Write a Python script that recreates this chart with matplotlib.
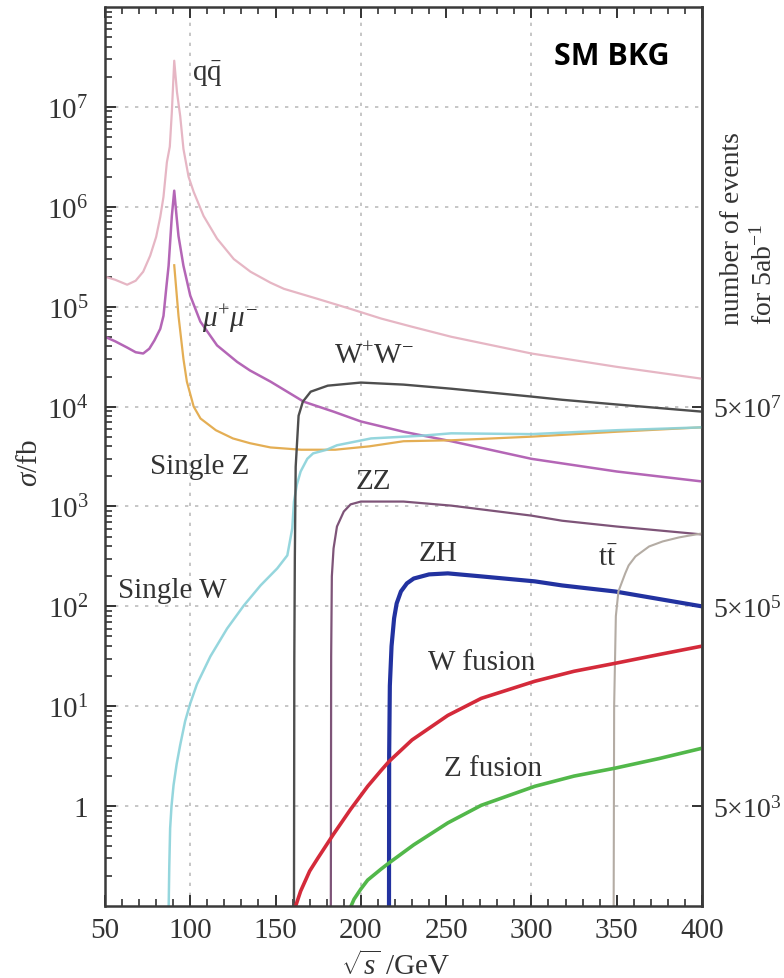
import numpy as np
import matplotlib
matplotlib.use("Agg")
import matplotlib.pyplot as plt
from matplotlib.ticker import FixedLocator, MultipleLocator, LogLocator, NullFormatter

plt.rcParams['font.family'] = ['Liberation Serif', 'DejaVu Serif']
plt.rcParams['mathtext.fontset'] = 'custom'
plt.rcParams['mathtext.rm'] = 'Liberation Serif'
plt.rcParams['mathtext.it'] = 'Liberation Serif:italic'
plt.rcParams['mathtext.bf'] = 'Liberation Serif:bold'

# cross sections in fb vs sqrt(s) in GeV
qq_x = [50, 56, 63, 68, 72.4, 76.5, 80, 82.4, 84.3, 86.3, 88, 89.2, 90.6, 92.2, 94.1,
        96, 99, 102, 107.8, 115.7, 125.5, 135.3, 147, 154.9, 174.5, 194, 212, 230,
        253, 300, 350, 400]
qq_y = [2.0e5, 1.86e5, 1.66e5, 1.82e5, 2.24e5, 3.24e5, 5.0e5, 7.9e5, 1.26e6, 2.8e6,
        4.0e6, 8.9e6, 2.9e7, 1.41e7, 8.1e6, 3.8e6, 2.0e6, 1.41e6, 8.1e5, 4.8e5,
        3.0e5, 2.24e5, 1.74e5, 1.51e5, 1.2e5, 9.5e4, 7.6e4, 6.3e4, 5.0e4, 3.4e4,
        2.5e4, 1.9e4]

mumu_x = [50, 56, 63, 68, 72.4, 76, 79, 82.4, 84.3, 86, 87.3, 89.2, 90.6, 92, 93.1, 96,
          100, 105.9, 115.7, 127.5, 135, 147, 166.5, 184, 200, 225, 253, 300, 318,
          350, 400]
mumu_y = [5.0e4, 4.5e4, 3.9e4, 3.5e4, 3.4e4, 3.8e4, 4.6e4, 6.0e4, 8.1e4, 1.58e5,
          2.57e5, 8.1e5, 1.45e6, 7.9e5, 5.1e5, 2.57e5, 1.29e5, 7.1e4, 4.1e4, 2.8e4,
          2.3e4, 1.78e4, 1.12e4, 8.9e3, 7.1e3, 5.6e3, 4.5e3, 3.0e3, 2.7e3, 2.24e3,
          1.78e3]

singlez_x = [90.6, 93.1, 96, 98, 102, 106, 115, 125, 135, 147, 165, 185, 205, 225,
             253, 300, 350, 400]
singlez_y = [2.6e5, 8.1e4, 3.0e4, 1.78e4, 1.0e4, 7.6e3, 5.8e3, 4.8e3, 4.3e3, 3.9e3,
             3.7e3, 3.7e3, 4.0e3, 4.5e3, 4.6e3, 5.0e3, 5.6e3, 6.2e3]

singlew_x = [87.3, 87.7, 88.2, 89, 90.2, 92, 94.1, 97, 100, 103.9, 111.8, 121.6, 131.4,
             141.2, 151, 156.9, 159.8, 160.8, 162.5, 164.7, 168.6, 172, 180, 186, 206,
             235, 253, 300, 350, 400]
singlew_y = [0.089, 0.25, 0.6, 1.0, 1.62, 2.63, 4.1, 7.1, 10.7, 16.6, 31.6, 60, 102,
             162, 240, 324, 603, 1.12e3, 1.66e3, 2.24e3, 3.0e3, 3.4e3, 3.7e3, 4.1e3,
             4.8e3, 5.1e3, 5.4e3, 5.3e3, 5.8e3, 6.2e3]

ww_x = [160.8, 161.0, 161.3, 161.8, 163.5, 166, 170.6, 180.6, 200, 225, 253, 300, 318,
        350, 400]
ww_y = [0.08, 30, 300, 2500, 8100, 1.12e4, 1.41e4, 1.62e4, 1.74e4, 1.66e4, 1.51e4,
        1.26e4, 1.17e4, 1.05e4, 8.9e3]

zz_x = [182.4, 182.6, 183, 184, 186, 190, 194, 200, 225, 253, 300, 318, 350, 400]
zz_y = [0.08, 31.6, 200, 380, 630, 890, 1050, 1120, 1120, 1020, 810, 720, 630, 525]

zh_x = [216.5, 216.6, 217, 218, 219.5, 221, 223.5, 227, 231, 240, 251, 270, 302, 318,
        349, 400]
zh_y = [0.08, 3.2, 16, 40, 76, 107, 141, 170, 190, 209, 214, 200, 178, 162, 141, 100]

tt_x = [348.2, 348.5, 349.5, 351, 355, 357, 361, 369, 377, 386.5, 393, 400]
tt_y = [0.08, 10, 80, 141, 214, 257, 316, 398, 447, 490, 513, 537]

wfus_x = [160.8, 164.7, 170, 174.7, 184, 194, 204, 212, 216.5, 230, 251, 270.6, 302,
          325, 349, 375, 400]
wfus_y = [0.089, 0.141, 0.224, 0.30, 0.525, 0.93, 1.58, 2.29, 2.8, 4.6, 8.1, 12, 17.8,
          22.4, 26.9, 33, 40]

zfus_x = [193, 196, 200, 204, 211.8, 216.5, 231, 251, 270.6, 302, 325, 349, 375, 400]
zfus_y = [0.089, 0.117, 0.148, 0.182, 0.234, 0.27, 0.41, 0.68, 1.02, 1.58, 2.0, 2.4,
          3.0, 3.8]

# left / right axis ticks
left_ticks = [1, 1e1, 1e2, 1e3, 1e4, 1e5, 1e6, 1e7]
left_labels = ['1', '$10^1$', '$10^2$', '$10^3$', '$10^4$', '$10^5$', '$10^6$', '$10^7$']
lumi = 5000  # fb^-1 = 5 ab^-1
right_ticks = [5e3, 5e5, 5e7]
right_labels = [r'5$\times$10$^3$', r'5$\times$10$^5$', r'5$\times$10$^7$']

fig = plt.figure(figsize=(7.84, 9.79), dpi=100)
ax = fig.add_axes([0.1339, 0.0735, 0.7615, 0.9183])

# grid (only a few lines in the original)
for yv in left_ticks:
    ax.axhline(yv, color='#bcbcbc', lw=1.2, ls=(0, (2, 4)), zorder=0)
for xv in [100, 200, 300]:
    ax.axvline(xv, color='#bcbcbc', lw=1.2, ls=(0, (2, 4)), zorder=0)

ax.plot(qq_x, qq_y, color='#e6b6c4', lw=1.6)
ax.plot(mumu_x, mumu_y, color='#b466b6', lw=1.8)
ax.plot(singlez_x, singlez_y, color='#e4ae54', lw=1.6)
ax.plot(singlew_x, singlew_y, color='#8ad2da', lw=1.8, alpha=0.9)
ax.plot(ww_x, ww_y, color='#4e4e4e', lw=1.7)
ax.plot(zz_x, zz_y, color='#7e5478', lw=1.6)
ax.plot(zh_x, zh_y, color='#2232a0', lw=3.0)
ax.plot(tt_x, tt_y, color='#b4aca4', lw=1.5)
ax.plot(wfus_x, wfus_y, color='#d42a3a', lw=2.6)
ax.plot(zfus_x, zfus_y, color='#52b84a', lw=2.6)

ax.set_yscale('log')
ax.set_xlim(50, 400)
ax.set_ylim(0.1, 1e8)

ax.xaxis.set_major_locator(MultipleLocator(50))
ax.xaxis.set_minor_locator(MultipleLocator(10))
ax.yaxis.set_major_locator(FixedLocator(left_ticks))
ax.yaxis.set_minor_locator(LogLocator(base=10, subs=np.arange(2, 10)))
ax.yaxis.set_minor_formatter(NullFormatter())
ax.set_yticklabels(left_labels)

ax.tick_params(axis='both', which='both', direction='in', top=True, right=False,
               colors='#333333', labelsize=21)
ax.tick_params(axis='both', which='major', length=8, width=1.4)
ax.tick_params(axis='both', which='minor', length=5, width=1.2)
ax.tick_params(axis='x', which='major', pad=8)
ax.tick_params(axis='y', which='major', pad=12)
for sp in ax.spines.values():
    sp.set_color('#3a3a3a')
    sp.set_linewidth(1.8)

# secondary axis: number of events for 5 ab^-1
sec = ax.secondary_yaxis('right', functions=(lambda y: y * lumi, lambda n: n / lumi))
sec.set_yticks(right_ticks)
sec.set_yticklabels(right_labels)
sec.yaxis.set_minor_locator(FixedLocator([]))
sec.tick_params(which='major', direction='in', length=7, width=1.4, pad=8,
                labelsize=20, colors='#333333')
sec.spines['right'].set_color('#3a3a3a')
sec.spines['right'].set_linewidth(1.8)

# axis titles placed as figure text
fig.text(396 / 784, 1 - 966 / 979, r'$\sqrt{s}$ /GeV', fontsize=21, color='#333333',
         ha='center', va='center')
fig.text(30 / 784, 1 - 463 / 979, r'$\sigma$/fb', fontsize=21, color='#333333',
         ha='center', va='center', rotation=90)
fig.text(749 / 784, (979 - 325) / 979, 'number of events\nfor 5ab$^{-1}$',
         rotation=90, ha='center', va='bottom', multialignment='left',
         fontsize=20, color='#333333', linespacing=1.3)

# curve labels
lbl = dict(fontsize=21, color='#333333', ha='center', va='center')
ax.text(110, 2.2e7, r'q$\mathrm{\bar{q}}$', **lbl)
ax.text(123.5, 7.6e4, r'$\mu^{+}\mu^{-}$', **lbl)
ax.text(207.6, 3.2e4, r'W$^{+}$W$^{-}$', **lbl)
ax.text(105.3, 2.57e3, 'Single Z', **lbl)
ax.text(207.6, 1.8e3, 'ZZ', **lbl)
ax.text(89.4, 145, 'Single W', **lbl)
ax.text(245.3, 339, 'ZH', **lbl)
ax.text(344.7, 302, r't$\mathrm{\bar{t}}$', **lbl)
ax.text(270.6, 28, 'W fusion', **lbl)
ax.text(277.6, 2.4, 'Z fusion', **lbl)
ax.text(347, 3.2e7, 'SM BKG', fontsize=22, fontweight='bold', family='Open Sans',
        color='black', ha='center', va='center')

fig.savefig('out.png', dpi=100, facecolor='white')
